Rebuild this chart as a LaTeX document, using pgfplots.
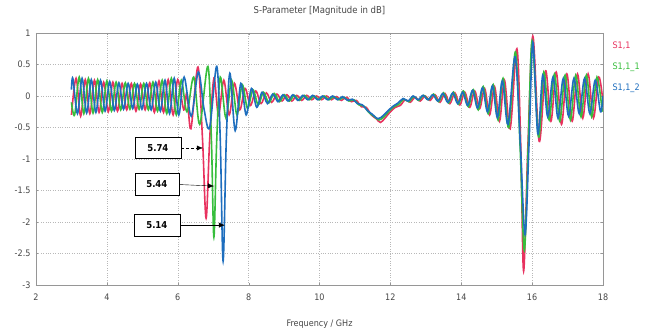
\documentclass[border=0pt]{standalone}
\usepackage{fontspec}
\setmainfont{DejaVu Sans Condensed}
\usepackage{pgfplots}
\pgfplotsset{compat=1.18}
\usetikzlibrary{arrows.meta}
\definecolor{cred}{RGB}{232,50,95}
\definecolor{cgreen}{RGB}{55,190,60}
\definecolor{cblue}{RGB}{30,110,190}
\definecolor{axgray}{RGB}{150,150,150}
\definecolor{txtgray}{RGB}{70,70,70}

\pgfplotstableread{
x y
3.00 -0.30
3.13 0.28
3.26 -0.32
3.39 0.26
3.52 -0.28
3.65 0.25
3.78 -0.26
3.91 0.22
4.04 -0.25
4.17 0.22
4.30 -0.24
4.43 0.20
4.56 -0.22
4.69 0.20
4.82 -0.24
4.95 0.19
5.08 -0.22
5.21 0.21
5.34 -0.26
5.47 0.24
5.60 -0.26
5.73 0.26
5.87 -0.30
6.00 0.26
6.17 -0.22
6.26 0.05
6.37 -0.52
6.57 0.46
6.70 -0.70
6.80 -1.94
6.90 -0.70
7.02 0.28
7.15 -0.30
7.30 0.25
7.45 -0.30
7.60 0.20
7.75 -0.22
7.90 0.12
8.05 -0.15
8.20 0.08
8.35 -0.12
8.50 0.05
8.65 -0.10
8.80 0.03
8.94 -0.08
9.08 0.02
9.22 -0.08
9.36 0.01
9.50 -0.07
9.64 0.01
9.78 -0.06
9.92 0.00
10.06 -0.06
10.20 0.00
10.34 -0.06
10.48 -0.01
10.62 -0.07
10.76 -0.02
10.90 -0.09
11.04 -0.07
11.18 -0.17
11.32 -0.18
11.46 -0.30
11.60 -0.36
11.72 -0.42
11.85 -0.35
12.00 -0.25
12.14 -0.18
12.28 -0.15
12.42 -0.06
12.56 -0.10
12.70 -0.02
12.84 -0.08
12.98 0.00
13.12 -0.07
13.26 0.02
13.40 -0.10
13.54 0.04
13.68 -0.12
13.82 0.05
13.96 -0.14
14.10 0.06
14.24 -0.18
14.38 0.08
14.52 -0.20
14.66 0.12
14.80 -0.30
14.94 0.15
15.08 -0.40
15.22 0.25
15.38 -0.52
15.57 0.75
15.68 -0.80
15.76 -2.78
15.88 -0.80
16.02 0.95
16.20 -0.72
16.38 0.40
16.53 -0.40
16.68 0.38
16.83 -0.45
16.98 0.35
17.13 -0.40
17.28 0.35
17.43 -0.35
17.58 0.35
17.73 -0.35
17.88 0.30
18.00 -0.10
}\redtab

\pgfplotstableread{
x y
3.00 -0.10
3.09 -0.30
3.22 0.30
3.35 -0.28
3.48 0.28
3.61 -0.27
3.74 0.26
3.87 -0.26
4.00 0.24
4.13 -0.24
4.26 0.22
4.39 -0.22
4.52 0.21
4.65 -0.21
4.78 0.20
4.91 -0.21
5.04 0.20
5.17 -0.22
5.30 0.22
5.43 -0.24
5.56 0.25
5.69 -0.28
5.82 0.28
5.96 -0.30
6.10 0.25
6.26 -0.25
6.45 0.30
6.62 -0.45
6.85 0.47
6.95 -0.70
7.02 -2.24
7.10 -0.70
7.20 0.30
7.36 -0.35
7.52 0.25
7.67 -0.30
7.82 0.18
7.97 -0.20
8.12 0.10
8.27 -0.14
8.42 0.06
8.57 -0.11
8.72 0.04
8.87 -0.09
9.01 0.02
9.15 -0.08
9.29 0.01
9.43 -0.07
9.57 0.01
9.71 -0.06
9.85 0.00
9.99 -0.06
10.13 0.00
10.27 -0.06
10.41 -0.01
10.55 -0.06
10.69 -0.02
10.83 -0.08
10.97 -0.06
11.11 -0.14
11.25 -0.16
11.39 -0.26
11.53 -0.32
11.68 -0.38
11.82 -0.33
11.96 -0.24
12.10 -0.17
12.24 -0.13
12.38 -0.05
12.52 -0.09
12.66 -0.01
12.80 -0.07
12.94 0.01
13.08 -0.06
13.22 0.03
13.36 -0.09
13.50 0.05
13.64 -0.11
13.78 0.06
13.92 -0.13
14.06 0.08
14.20 -0.17
14.34 0.10
14.48 -0.22
14.62 0.15
14.76 -0.28
14.90 0.18
15.04 -0.38
15.18 0.28
15.34 -0.50
15.53 0.70
15.66 -0.80
15.78 -2.45
15.89 -0.80
16.00 0.88
16.18 -0.65
16.33 0.38
16.48 -0.38
16.63 0.35
16.78 -0.40
16.93 0.33
17.08 -0.38
17.23 0.33
17.38 -0.33
17.53 0.33
17.68 -0.33
17.83 0.30
17.98 -0.25
}\greentab

\pgfplotstableread{
x y
3.00 0.10
3.04 0.28
3.17 -0.28
3.30 0.28
3.43 -0.27
3.56 0.26
3.69 -0.26
3.82 0.25
3.95 -0.24
4.08 0.23
4.21 -0.23
4.34 0.21
4.47 -0.21
4.60 0.20
4.73 -0.20
4.86 0.19
4.99 -0.21
5.12 0.20
5.25 -0.22
5.38 0.22
5.51 -0.24
5.64 0.25
5.77 -0.28
5.90 0.28
6.03 -0.30
6.18 0.30
6.38 -0.32
6.58 0.38
6.74 -0.20
6.90 -0.50
7.10 0.47
7.20 -0.70
7.28 -2.62
7.37 -0.70
7.47 0.36
7.62 -0.55
7.78 0.20
7.93 -0.30
8.08 0.12
8.23 -0.18
8.38 0.06
8.53 -0.12
8.68 0.03
8.83 -0.09
8.97 0.02
9.11 -0.08
9.25 0.02
9.39 -0.07
9.53 0.01
9.67 -0.06
9.81 0.01
9.95 -0.06
10.09 0.00
10.23 -0.06
10.37 0.00
10.51 -0.06
10.65 -0.01
10.79 -0.07
10.93 -0.05
11.07 -0.12
11.21 -0.14
11.35 -0.23
11.49 -0.29
11.65 -0.36
11.80 -0.31
11.94 -0.23
12.08 -0.16
12.22 -0.11
12.36 -0.04
12.50 -0.08
12.64 0.00
12.78 -0.06
12.92 0.01
13.06 -0.06
13.20 0.02
13.34 -0.08
13.48 0.04
13.62 -0.10
13.76 0.05
13.90 -0.12
14.04 0.06
14.18 -0.15
14.32 0.09
14.46 -0.19
14.60 0.13
14.74 -0.25
14.88 0.16
15.02 -0.34
15.16 0.24
15.32 -0.45
15.52 0.62
15.67 -0.80
15.80 -2.20
15.91 -0.80
16.02 0.85
16.16 -0.60
16.30 0.33
16.44 -0.33
16.59 0.30
16.73 -0.35
16.88 0.28
17.03 -0.32
17.18 0.28
17.33 -0.28
17.48 0.28
17.63 -0.28
17.78 0.25
17.93 -0.25
18.00 0.00
}\bluetab

\begin{document}
\begin{tikzpicture}[font=\fontsize{9}{10}\selectfont]
\path[use as bounding box] (-36bp,-47bp) rectangle (614bp,285bp);
\begin{axis}[
  at={(0,0)}, anchor=south west,
  scale only axis, width=567bp, height=252bp,
  xmin=2, xmax=18, ymin=-3, ymax=1,
  xtick={2,4,...,18}, ytick={-3,-2.5,...,1},
  grid=major, grid style={dotted, black!28},
  axis line style={axgray}, tick style={axgray}, major tick length=2bp,
  tick label style={txtgray, font=\fontsize{9}{10}\selectfont},
  /pgf/number format/assume math mode=true,
  yticklabel style={/pgf/number format/fixed, xshift=-2bp},
  xticklabel style={yshift=-5bp},
  title={S-Parameter [Magnitude in dB]},
  title style={txtgray, font=\fontsize{9.5}{10}\selectfont, at={(axis description cs:0.5,1)}, anchor=base, yshift=14bp},
  xlabel={Frequency / GHz},
  xlabel style={txtgray, at={(axis description cs:0.5,0)}, anchor=base, yshift=-41bp},
  clip mode=individual,
]
\addplot[cred, line width=1.6bp, smooth, tension=0.55] table[x=x,y=y] {\redtab};
\addplot[cgreen, line width=1.6bp, smooth, tension=0.55] table[x=x,y=y] {\greentab};
\addplot[cblue, line width=1.6bp, smooth, tension=0.55] table[x=x,y=y] {\bluetab};

\node[cred, anchor=west] at (rel axis cs:1,0.95) [xshift=6bp] {S1,1};
\node[cgreen, anchor=west] at (rel axis cs:1,0.865) [xshift=6bp] {S1,1\_1};
\node[cblue, anchor=west] at (rel axis cs:1,0.78) [xshift=6bp] {S1,1\_2};

\node[draw=black, fill=white, font=\fontsize{9.5}{10}\selectfont\bfseries, minimum width=46bp, minimum height=21bp, inner sep=1bp] (b1) at (axis cs:5.44,-0.825) {5.74};
\node[draw=black, fill=white, font=\fontsize{9.5}{10}\selectfont\bfseries, minimum width=44bp, minimum height=22bp, inner sep=1bp] (b2) at (axis cs:5.41,-1.405) {5.44};
\node[draw=black, fill=white, font=\fontsize{9.5}{10}\selectfont\bfseries, minimum width=46bp, minimum height=22bp, inner sep=1bp] (b3) at (axis cs:5.41,-2.05) {5.14};
\draw[-{Latex[length=6bp,width=5bp]}, black, densely dashed] (b1.east) -- (axis cs:6.71,-0.825);
\draw[-{Latex[length=6bp,width=5bp]}, black] (b2.east) -- (axis cs:7.02,-1.43);
\draw[-{Latex[length=6bp,width=5bp]}, black] (b3.east) -- (axis cs:7.33,-2.05);
\end{axis}
\end{tikzpicture}
\end{document}
